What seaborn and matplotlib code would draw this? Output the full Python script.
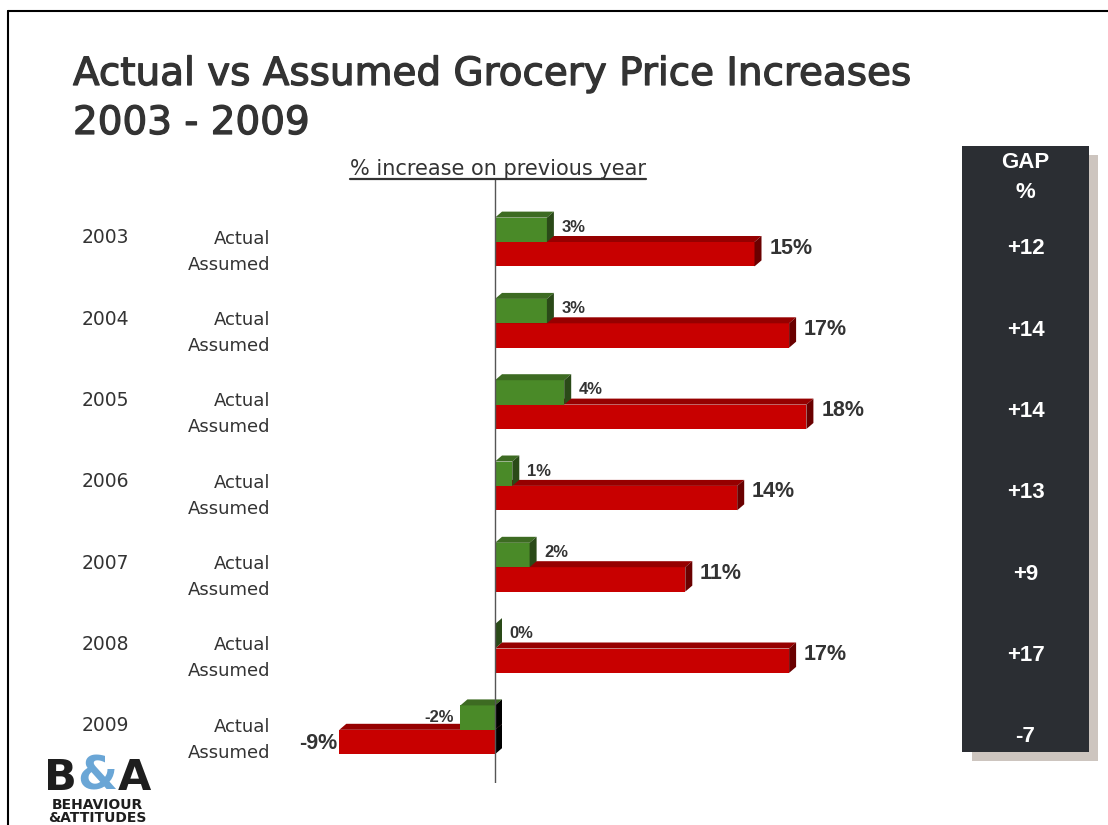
import matplotlib
matplotlib.use("Agg")
import matplotlib.pyplot as plt
import matplotlib.patheffects as pe
import pandas as pd
import seaborn as sns
from matplotlib.patches import Polygon, Rectangle
from matplotlib.lines import Line2D
from matplotlib.transforms import blended_transform_factory

# ---- data -------------------------------------------------------------
years = ["2003", "2004", "2005", "2006", "2007", "2008", "2009"]
actual = [3, 3, 4, 1, 2, 0, -2]
assumed = [15, 17, 18, 14, 11, 17, -9]
gap = ["+12", "+14", "+14", "+13", "+9", "+17", "-7"]
series_names = ["Actual", "Assumed"]

# ---- style --------------------------------------------------------------
W, H = 1108, 825
sns.set_theme(style="white")
plt.rcParams["font.family"] = ["DejaVu Sans"]

TEXT = "#333333"
GREEN, GREEN_TOP, GREEN_SIDE = "#4a8a28", "#3d6b22", "#2a4a18"
RED, RED_TOP, RED_SIDE = "#c80000", "#960000", "#6a0000"
ARIAL = ["Liberation Sans", "DejaVu Sans"]
heavy = [pe.withStroke(linewidth=0.9, foreground=TEXT)]

fig = plt.figure(figsize=(W / 100, H / 100), dpi=100)
fig.patch.set_facecolor("white")


def fx(px):
    return px / W


def fy(py):
    return 1 - py / H


# ---- bar axes -----------------------------------------------------------
ax_l, ax_r, ax_t, ax_b = 300, 900, 178, 783
zero_px, px_per_pct = 495, 17.3
row0_px, px_per_row = 242, 81.3
ax = fig.add_axes([fx(ax_l), fy(ax_b), (ax_r - ax_l) / W, (ax_b - ax_t) / H])

df = pd.DataFrame({
    "year": years * 2,
    "series": [series_names[0]] * len(years) + [series_names[1]] * len(years),
    "value": actual + assumed,
})

sns.barplot(data=df, y="year", x="value", hue="series", hue_order=series_names,
            order=years, orient="h", palette=[GREEN, RED], width=0.6,
            dodge=True, saturation=1, linewidth=0, legend=False,
            errorbar=None, ax=ax)

ax.set_xlim((ax_l - zero_px) / px_per_pct, (ax_r - zero_px) / px_per_pct)
ax.set_ylim((ax_b - row0_px) / px_per_row, -(row0_px - ax_t) / px_per_row)
ax.axis("off")

# 3-D extrusion of each bar: a top face and a right-hand side face
dx = 7 / px_per_pct
dy = 6 / px_per_row
for p in list(ax.patches):
    x0, w, y0, h = p.get_x(), p.get_width(), p.get_y(), p.get_height()
    xl, xr = min(x0, x0 + w), max(x0, x0 + w)
    yt, yb = min(y0, y0 + h), max(y0, y0 + h)
    yc = (yt + yb) / 2
    is_actual = yc < round(yc)
    top_c = GREEN_TOP if is_actual else RED_TOP
    side_c = GREEN_SIDE if is_actual else RED_SIDE
    if w < 0:
        side_c = "black"
    base_z = 3 if is_actual else 2
    p.set_zorder(base_z)
    ax.add_patch(Polygon([(xl, yt), (xr, yt), (xr + dx, yt - dy), (xl + dx, yt - dy)],
                         closed=True, facecolor=top_c, edgecolor="none", zorder=base_z + 0.5))
    ax.add_patch(Polygon([(xr, yt), (xr + dx, yt - dy), (xr + dx, yb - dy), (xr, yb)],
                         closed=True, facecolor=side_c, edgecolor="none", zorder=base_z + 0.5))

ax.axvline(0, color="#555555", lw=1, zorder=10)

# value labels
for i in range(len(years)):
    a, v = actual[i], assumed[i]
    if a >= 0:
        ax.text(a + dx + 0.45, i - 0.15 - 0.03, f"{a}%", ha="left", va="center",
                fontsize=12, weight="bold", color=TEXT, family=ARIAL)
    else:
        ax.text(a - 0.35, i - 0.15, f"{a}%", ha="right", va="center",
                fontsize=12, weight="bold", color=TEXT, family=ARIAL)
    if v >= 0:
        ax.text(v + dx + 0.45, i + 0.15 - 0.075, f"{v}%", ha="left", va="center",
                fontsize=15.5, weight="bold", color=TEXT, family=ARIAL)
    else:
        ax.text(v - 0.1, i + 0.15 + 0.02, f"{v}%", ha="right", va="center",
                fontsize=15.5, weight="bold", color=TEXT, family=ARIAL)

# row labels on the left
row_tr = blended_transform_factory(fig.transFigure, ax.transData)
for i, yr in enumerate(years):
    fig.text(fx(82), i - 0.05, yr, transform=row_tr, ha="left", va="center",
             fontsize=13.5, color=TEXT)
    fig.text(fx(270), i - 0.04, series_names[0], transform=row_tr, ha="right",
             va="center", fontsize=13, color=TEXT)
    fig.text(fx(270), i + 0.28, series_names[1], transform=row_tr, ha="right",
             va="center", fontsize=13, color=TEXT)

# ---- titles -------------------------------------------------------------
fig.text(fx(73), fy(85), "Actual vs Assumed Grocery Price Increases",
         fontsize=28, color=TEXT, ha="left", va="baseline", path_effects=heavy)
fig.text(fx(73), fy(134), "2003 - 2009", fontsize=28, color=TEXT,
         ha="left", va="baseline", path_effects=heavy)
sub = fig.text(fx(350), fy(175), "% increase on previous year", fontsize=15,
               color=TEXT, ha="left", va="baseline")
fig.canvas.draw()
bb = sub.get_window_extent()
fig.add_artist(Line2D([bb.x0 / W, bb.x1 / W], [fy(179), fy(179)],
                      transform=fig.transFigure, color=TEXT, lw=1.6))

# ---- GAP panel ----------------------------------------------------------
fig.add_artist(Rectangle((fx(972), fy(761)), (1098 - 972) / W, (761 - 155) / H,
                         transform=fig.transFigure, facecolor="#cdc5bf",
                         edgecolor="none", zorder=0))
fig.add_artist(Rectangle((fx(962), fy(752)), (1089 - 962) / W, (752 - 146) / H,
                         transform=fig.transFigure, facecolor="#2b2e33",
                         edgecolor="none", zorder=1))
panel_cx = fx(1025.5)
fig.text(panel_cx, fy(162), "GAP", ha="center", va="center", fontsize=16,
         weight="bold", color="white", family=ARIAL, zorder=2)
fig.text(panel_cx, fy(193), "%", ha="center", va="center", fontsize=16,
         weight="bold", color="white", family=ARIAL, zorder=2)
for i, g in enumerate(gap):
    fig.text(panel_cx, i + 0.085, g, transform=row_tr, ha="center", va="center",
             fontsize=16, weight="bold", color="white", family=ARIAL, zorder=2)

# ---- logo ---------------------------------------------------------------
logo_dark, logo_blue = "#1e1e1e", "#6aa6d6"
fig.text(fx(44), fy(790), "B", fontsize=31, weight="bold", color=logo_dark,
         ha="left", va="baseline")
fig.text(fx(97), fy(790), "&", fontsize=33, weight="bold", color=logo_blue,
         ha="center", va="baseline")
fig.text(fx(151), fy(790), "A", fontsize=31, weight="bold", color=logo_dark,
         ha="right", va="baseline")
fig.text(fx(97), fy(798), "BEHAVIOUR\n&ATTITUDES", fontsize=10, weight="bold",
         color=logo_dark, ha="center", va="top", multialignment="center",
         linespacing=0.95)

# ---- slide frame --------------------------------------------------------
fig.add_artist(Line2D([fx(8), fx(8)], [fy(11), 0], transform=fig.transFigure,
                      color="black", lw=1.5))
fig.add_artist(Line2D([fx(8), 1], [fy(11), fy(11)], transform=fig.transFigure,
                      color="black", lw=1.5))

fig.savefig("out.png", dpi=100, facecolor="white")
